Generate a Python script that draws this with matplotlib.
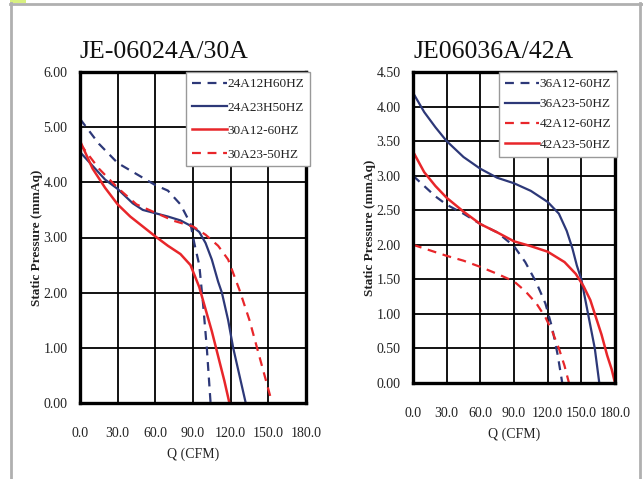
import matplotlib
matplotlib.use("Agg")
import matplotlib.pyplot as plt
from matplotlib.lines import Line2D
from matplotlib.patches import Rectangle

plt.rcParams['font.family'] = ['Liberation Serif', 'DejaVu Serif']

NAVY = '#2d3878'
RED = '#e8262a'

# ---------------- Left chart data: JE-06024A/30A ----------------
left_title = "JE-06024A/30A"
left_labels = ["24A12H60HZ", "24A23H50HZ", "30A12-60HZ", "30A23-50HZ"]
l1_q = [0, 15, 30, 45, 60, 70, 80, 88, 91, 95, 98, 101, 104]
l1_p = [5.15, 4.7, 4.35, 4.15, 3.95, 3.85, 3.6, 3.25, 2.9, 2.5, 1.8, 1.0, 0.0]
l2_q = [0, 10, 20, 30, 42, 50, 60, 70, 80, 90, 95, 100, 105, 110, 113, 118, 122, 127, 132]
l2_p = [4.55, 4.3, 4.05, 3.88, 3.62, 3.5, 3.44, 3.38, 3.31, 3.19, 3.1, 2.9, 2.6, 2.2, 2.0, 1.5, 1.0, 0.5, 0.0]
l3_q = [0, 10, 20, 30, 40, 50, 60, 70, 80, 88, 95, 100, 105, 110, 115, 119]
l3_p = [4.75, 4.25, 3.9, 3.6, 3.38, 3.2, 3.02, 2.85, 2.7, 2.5, 2.1, 1.7, 1.3, 0.85, 0.4, 0.0]
l4_q = [0, 15, 30, 45, 60, 75, 90, 100, 110, 118, 127, 135, 141, 147, 153]
l4_p = [4.7, 4.25, 3.9, 3.6, 3.45, 3.3, 3.2, 3.05, 2.85, 2.6, 2.05, 1.5, 1.0, 0.5, 0.0]

# ---------------- Right chart data: JE06036A/42A ----------------
right_title = "JE06036A/42A"
right_labels = ["36A12-60HZ", "36A23-50HZ", "42A12-60HZ", "42A23-50HZ"]
r1_q = [0, 10, 20, 30, 45, 60, 75, 90, 100, 110, 118, 124, 129, 133]
r1_p = [3.0, 2.85, 2.7, 2.58, 2.45, 2.3, 2.18, 1.98, 1.75, 1.45, 1.15, 0.8, 0.4, 0.0]
r2_q = [0, 10, 20, 30, 45, 60, 75, 90, 105, 120, 130, 137, 142, 146, 150, 156, 162, 166]
r2_p = [4.2, 3.92, 3.7, 3.5, 3.27, 3.1, 2.97, 2.89, 2.78, 2.62, 2.45, 2.2, 1.95, 1.7, 1.5, 1.0, 0.5, 0.0]
r3_q = [0, 15, 30, 45, 60, 75, 90, 100, 110, 118, 124, 130, 135, 139]
r3_p = [2.0, 1.92, 1.84, 1.77, 1.68, 1.58, 1.47, 1.33, 1.15, 0.95, 0.75, 0.5, 0.25, 0.0]
r4_q = [0, 10, 20, 30, 45, 60, 75, 90, 105, 120, 135, 145, 152, 158, 163, 168, 173, 177, 180]
r4_p = [3.35, 3.05, 2.85, 2.68, 2.48, 2.3, 2.18, 2.05, 1.98, 1.9, 1.75, 1.58, 1.4, 1.2, 0.95, 0.7, 0.4, 0.2, 0.0]

x_ticks = [0, 30, 60, 90, 120, 150, 180]
x_ticklabels = ["0.0", "30.0", "60.0", "90.0", "120.0", "150.0", "180.0"]
left_yticks = [0, 1, 2, 3, 4, 5, 6]
left_yticklabels = ["0.00", "1.00", "2.00", "3.00", "4.00", "5.00", "6.00"]
right_yticks = [0, 0.5, 1.0, 1.5, 2.0, 2.5, 3.0, 3.5, 4.0, 4.5]
right_yticklabels = ["0.00", "0.50", "1.00", "1.50", "2.00", "2.50", "3.00", "3.50", "4.00", "4.50"]

DASH = (0, (4, 3))

fig = plt.figure(figsize=(6.43, 4.79), dpi=100)

# screenshot frame
fig.add_artist(Line2D([10 / 643, 1], [1 - 3.5 / 479] * 2, color='#b0b0b0', lw=2, transform=fig.transFigure))
fig.add_artist(Line2D([11 / 643] * 2, [0, 1 - 3 / 479], color='#b0b0b0', lw=2, transform=fig.transFigure))
fig.add_artist(Line2D([640 / 643] * 2, [0, 1 - 3 / 479], color='#b0b0b0', lw=2, transform=fig.transFigure))
fig.add_artist(Rectangle((10 / 643, 1 - 3 / 479), 16 / 643, 3 / 479, color='#d8f080',
                         transform=fig.transFigure, lw=0))


def style_axes(ax, yticks, yticklabels, ymax, title, labels, lines, legend_anchor, labelspacing):
    ax.set_xlim(0, 180)
    ax.set_ylim(0, ymax)
    ax.set_xticks(x_ticks)
    ax.set_xticklabels(x_ticklabels)
    ax.set_yticks(yticks)
    ax.set_yticklabels(yticklabels)
    ax.tick_params(length=0, labelsize=10, colors='#222222')
    ax.tick_params(axis='x', pad=17)
    ax.tick_params(axis='y', pad=9)
    ax.grid(True, color='black', lw=1.3)
    ax.set_axisbelow(True)
    for s in ax.spines.values():
        s.set_linewidth(2.4)
        s.set_color('black')
    ax.set_xlabel("Q (CFM)", fontsize=10, labelpad=6, color='#222222')
    ax.set_ylabel("Static Pressure (mmAq)", fontsize=9.5, fontweight='bold', labelpad=0, color='#222222')
    ax.set_title(title, loc='left', fontsize=18.5, pad=10, color='#111111')
    leg = ax.legend(lines, labels, loc='upper right', bbox_to_anchor=legend_anchor,
                    borderaxespad=0, fancybox=False, framealpha=1, edgecolor='#999999',
                    fontsize=9.5, handlelength=2.6, handletextpad=0.05,
                    labelspacing=labelspacing, borderpad=0.45)
    leg.get_frame().set_linewidth(1.0)
    for t in leg.get_texts():
        t.set_color('#222222')


axL = fig.add_axes([80 / 643, 76 / 479, 226 / 643, 331 / 479])
la = axL.plot(l1_q, l1_p, color=NAVY, lw=1.6, ls=DASH)[0]
lb = axL.plot(l2_q, l2_p, color=NAVY, lw=1.6)[0]
lc = axL.plot(l3_q, l3_p, color=RED, lw=1.8)[0]
ld = axL.plot(l4_q, l4_p, color=RED, lw=1.6, ls=DASH)[0]
style_axes(axL, left_yticks, left_yticklabels, 6, left_title, left_labels,
           [la, lb, lc, ld], (1.018, 1.0), 0.85)

axR = fig.add_axes([413 / 643, 96 / 479, 202 / 643, 311 / 479])
ra = axR.plot(r1_q, r1_p, color=NAVY, lw=1.6, ls=DASH)[0]
rb = axR.plot(r2_q, r2_p, color=NAVY, lw=1.6)[0]
rc = axR.plot(r3_q, r3_p, color=RED, lw=1.6, ls=DASH)[0]
rd = axR.plot(r4_q, r4_p, color=RED, lw=1.8)[0]
style_axes(axR, right_yticks, right_yticklabels, 4.5, right_title, right_labels,
           [ra, rb, rc, rd], (1.01, 1.0), 0.6)

fig.savefig("out.png", dpi=100)
